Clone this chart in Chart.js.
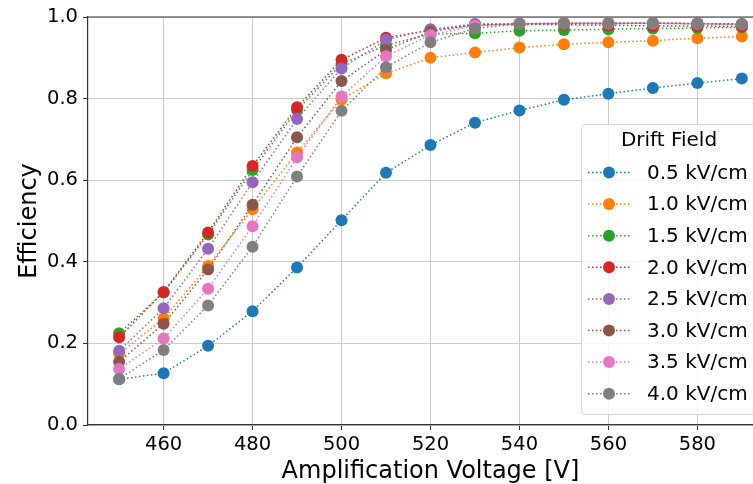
<!DOCTYPE html>
<html>
<head>
<meta charset="utf-8">
<script src="https://cdn.jsdelivr.net/npm/chart.js@4.4.0/dist/chart.umd.min.js"></script>
<style>
  html, body { margin: 0; padding: 0; overflow: hidden; background: #fff; }
  #wrap { position: relative; width: 780px; height: 484px; }
</style>
</head>
<body>
<div id="wrap"><canvas id="chart"></canvas></div>
<script>
// amplification voltage [V]
const voltages = [450, 460, 470, 480, 490, 500, 510, 520, 530, 540, 550, 560, 570, 580, 590];

const driftFields = ['0.5 kV/cm', '1.0 kV/cm', '1.5 kV/cm', '2.0 kV/cm',
                     '2.5 kV/cm', '3.0 kV/cm', '3.5 kV/cm', '4.0 kV/cm'];

const eff05 = [0.112, 0.127, 0.194, 0.279, 0.386, 0.502, 0.618, 0.686, 0.741, 0.771, 0.797, 0.812, 0.826, 0.838, 0.849];
const eff10 = [0.175, 0.261, 0.390, 0.529, 0.668, 0.798, 0.862, 0.900, 0.913, 0.925, 0.933, 0.938, 0.942, 0.948, 0.952];
const eff15 = [0.225, 0.325, 0.467, 0.625, 0.772, 0.885, 0.931, 0.958, 0.960, 0.966, 0.968, 0.970, 0.972, 0.973, 0.975];
const eff20 = [0.215, 0.326, 0.472, 0.635, 0.779, 0.895, 0.949, 0.968, 0.980, 0.982, 0.981, 0.980, 0.978, 0.978, 0.977];
const eff25 = [0.182, 0.286, 0.432, 0.595, 0.750, 0.874, 0.944, 0.970, 0.983, 0.984, 0.985, 0.985, 0.985, 0.984, 0.982];
const eff30 = [0.155, 0.248, 0.381, 0.540, 0.705, 0.843, 0.919, 0.964, 0.981, 0.983, 0.984, 0.984, 0.985, 0.984, 0.983];
const eff35 = [0.137, 0.212, 0.334, 0.487, 0.656, 0.805, 0.904, 0.956, 0.979, 0.983, 0.984, 0.984, 0.984, 0.983, 0.982];
const eff40 = [0.113, 0.184, 0.293, 0.437, 0.609, 0.770, 0.877, 0.938, 0.972, 0.983, 0.984, 0.985, 0.985, 0.984, 0.982];

const allSeries = [eff05, eff10, eff15, eff20, eff25, eff30, eff35, eff40];
const colors = ['#1f77b4', '#ff7f0e', '#2ca02c', '#d62728', '#9467bd', '#8c564b', '#e377c2', '#7f7f7f'];

const FONT = 'DejaVu Sans';

const datasets = allSeries.map((vals, i) => ({
  label: driftFields[i],
  data: vals.map((v, k) => ({ x: voltages[k], y: v })),
  borderColor: colors[i],
  backgroundColor: colors[i],
  borderWidth: 1.5,
  borderDash: [1.5, 2.5],
  pointRadius: 6,
  pointBorderWidth: 0,
  pointHoverRadius: 6,
  tension: 0,
  fill: false,
  order: allSeries.length - i   // later series on top, like matplotlib
}));

// top spine + legend drawn inside the plot area
const extras = {
  id: 'extras',
  beforeDatasetsDraw(chart) {
    const { ctx, chartArea } = chart;
    ctx.save();
    ctx.strokeStyle = '#333';
    ctx.lineWidth = 1.2;
    ctx.beginPath();
    ctx.moveTo(chartArea.left, chartArea.top);
    ctx.lineTo(chartArea.right, chartArea.top);
    ctx.stroke();
    ctx.restore();
  },
  afterDraw(chart) {
    const ctx = chart.ctx;
    const boxX = 581, boxY = 124, boxW = 186, boxH = 290;
    ctx.save();
    ctx.fillStyle = 'rgba(255,255,255,0.8)';
    ctx.strokeStyle = '#d6d6d6';
    ctx.lineWidth = 1;
    ctx.beginPath();
    ctx.roundRect(boxX + 0.5, boxY + 0.5, boxW, boxH, 4);
    ctx.fill();
    ctx.stroke();

    ctx.fillStyle = '#000';
    ctx.font = '20px "' + FONT + '"';
    ctx.textBaseline = 'middle';
    ctx.textAlign = 'center';
    ctx.fillText('Drift Field', 669, 141);

    ctx.textAlign = 'left';
    chart.data.datasets.forEach((ds, i) => {
      const y = 172.5 + i * 31.6;
      ctx.strokeStyle = ds.borderColor;
      ctx.lineWidth = 1.5;
      ctx.setLineDash([1.5, 2.5]);
      ctx.beginPath();
      ctx.moveTo(588, y);
      ctx.lineTo(630, y);
      ctx.stroke();
      ctx.setLineDash([]);
      ctx.fillStyle = ds.backgroundColor;
      ctx.beginPath();
      ctx.arc(609, y, 6, 0, Math.PI * 2);
      ctx.fill();
      ctx.fillStyle = '#000';
      ctx.fillText(ds.label, 647, y + 1);
    });
    ctx.restore();
  }
};

new Chart(document.getElementById('chart'), {
  type: 'line',
  data: { datasets },
  options: {
    responsive: true,
    maintainAspectRatio: false,
    animation: false,
    events: [],
    layout: { padding: { top: 17, right: 7, bottom: 0, left: 0 } },
    scales: {
      x: {
        type: 'linear',
        min: 443,
        max: 597,
        afterFit(scale) { scale.height = 59; },
        afterBuildTicks(scale) {
          scale.ticks = scale.ticks.filter(t => t.value % 20 === 0);
        },
        ticks: {
          stepSize: 20,
          includeBounds: false,
          color: '#000',
          padding: 3,
          font: { family: FONT, size: 19.5 }
        },
        grid: { color: '#cccccc', lineWidth: 1, tickLength: 5, tickColor: '#333' },
        border: { display: true, color: '#333', width: 1.2 },
        title: {
          display: true,
          text: 'Amplification Voltage [V]',
          color: '#000',
          padding: { top: 0, bottom: -2 },
          font: { family: FONT, size: 24 }
        }
      },
      y: {
        min: 0,
        max: 1,
        afterFit(scale) { scale.width = 88; },
        ticks: {
          stepSize: 0.2,
          color: '#000',
          padding: 5,
          font: { family: FONT, size: 19.5 },
          callback: v => v.toFixed(1)
        },
        grid: { color: '#cccccc', lineWidth: 1, tickLength: 5, tickColor: '#333' },
        border: { display: true, color: '#333', width: 1.2 },
        title: {
          display: true,
          text: 'Efficiency',
          color: '#000',
          padding: { top: 15, bottom: 0 },
          font: { family: FONT, size: 24 }
        }
      }
    },
    plugins: {
      legend: { display: false },
      tooltip: { enabled: false }
    }
  },
  plugins: [extras]
});
</script>
</body>
</html>
